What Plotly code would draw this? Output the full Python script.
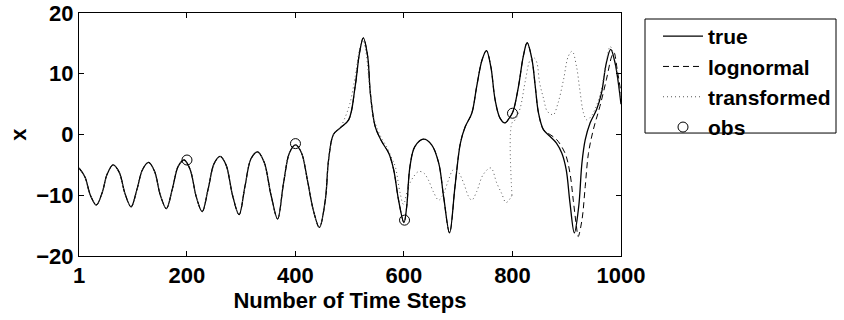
import plotly.graph_objects as go

# ---------------- data ----------------
true_steps = [1, 12, 22, 33, 44, 53, 64, 75, 86, 97, 108, 118, 129, 140, 151, 162, 173, 184, 195,
              206, 217, 228, 239, 250, 261, 272, 284, 296, 307, 318, 330, 342, 355, 367, 378, 389,
              400, 411, 422, 433, 444, 455, 461, 470, 482, 498, 510, 518, 525, 533, 538, 547, 559,
              572, 581, 590, 600, 605, 611, 620, 636, 651, 664, 673, 684, 694, 704, 713, 725, 734,
              744, 752, 760, 768, 777, 786, 794, 801, 811, 820, 827, 836, 842, 848, 857, 869, 881,
              891, 899, 906, 914, 922, 928, 934, 943, 955, 964, 973, 981, 989, 1000]
true_vals = [-5.5, -7.0, -10.0, -11.6, -9.5, -6.5, -5.0, -6.2, -9.8, -11.9, -9.0, -5.8, -4.6, -6.0,
             -10.0, -12.2, -9.0, -5.2, -4.2, -5.8, -10.2, -12.7, -9.0, -4.8, -3.6, -5.0, -10.0,
             -13.2, -8.5, -4.0, -2.85, -4.5, -10.0, -13.9, -8.0, -3.0, -1.7, -3.0, -7.5, -12.5,
             -15.3, -10.8, -4.2, 0.0, 1.05, 2.4, 7.9, 13.4, 15.9, 12.9, 6.8, 1.3, -1.15, -3.1,
             -5.8, -10.8, -14.5, -11.9, -5.3, -2.0, -0.77, -1.7, -4.7, -10.2, -16.2, -8.6, -1.4,
             1.3, 3.5, 7.9, 12.3, 13.8, 11.2, 5.7, 2.7, 1.9, 2.7, 3.8, 7.9, 12.9, 15.1, 12.3, 7.9,
             3.5, 0.8, -0.3, -1.4, -3.1, -5.8, -11.3, -16.2, -11.9, -4.7, -0.9, 1.9, 4.1, 6.8,
             11.8, 14.0, 11.8, 5.0]

# lognormal follows "true" up to step 857, then diverges
lognormal_split_step = 857
lognormal_tail_steps = [869, 881, 897, 906, 912, 918, 921, 928, 934, 940, 949, 961, 973, 983, 987, 993, 1000]
lognormal_tail_vals = [0.0, -0.8, -3.1, -6.4, -10.8, -15.2, -16.8, -14.1, -8.6, -3.1, 0.8, 4.6,
                       9.0, 12.9, 13.5, 10.7, 6.8]

# transformed follows "true" up to step 482, then diverges (jump at step 799)
transformed_split_step = 482
transformed_tail_steps = [490, 500, 510, 518, 524, 530, 536, 545, 558, 568, 578, 584, 593, 599,
                          608, 618, 627, 636, 645, 654, 664, 673, 682, 691, 700, 710, 719, 725,
                          734, 746, 760, 771, 780, 788, 796, 799, 799, 805, 814, 824, 833, 840,
                          845, 850, 857, 864, 869, 875, 884, 894, 903, 910, 918, 924, 931, 937,
                          945, 955, 964, 973, 980, 989, 1000]
transformed_tail_vals = [2.5, 5.0, 9.5, 14.0, 15.6, 13.5, 8.5, 2.5, -0.5, -2.0, -4.0, -5.3, -9.7,
                         -11.5, -8.6, -6.9, -6.1, -6.3, -7.5, -9.4, -10.8, -9.7, -7.5, -5.8, -6.2,
                         -8.0, -10.2, -10.8, -9.4, -6.6, -5.5, -8.0, -9.7, -11.2, -10.5, -10.0,
                         1.9, 2.4, 4.3, 9.0, 12.3, 12.6, 11.8, 8.5, 6.0, 3.8, 3.5, 3.2, 5.2, 9.0,
                         12.9, 13.7, 11.2, 7.4, 3.5, 2.4, 3.0, 4.8, 7.5, 12.0, 14.5, 12.0, 5.5]

obs_steps = [200, 400, 601, 800]
obs_vals = [-4.2, -1.5, -14.1, 3.5]

x_ticks = [1, 200, 400, 600, 800, 1000]
y_ticks = [-20, -10, 0, 10, 20]

# ---------------- build series ----------------
k = true_steps.index(lognormal_split_step)
logn_steps = true_steps[:k + 1] + lognormal_tail_steps
logn_vals = true_vals[:k + 1] + lognormal_tail_vals

m = true_steps.index(transformed_split_step)
tr_steps = true_steps[:m + 1] + transformed_tail_steps
tr_vals = true_vals[:m + 1] + transformed_tail_vals
# split at the vertical jump (repeated step)
j = next(i for i in range(1, len(tr_steps)) if tr_steps[i] == tr_steps[i - 1])
trA_s, trA_v = tr_steps[:j], tr_vals[:j]
trB_s, trB_v = tr_steps[j - 1:], tr_vals[j - 1:]

FONT = "Liberation Sans, Arial, Helvetica, sans-serif"

fig = go.Figure()
fig.add_trace(go.Scatter(x=true_steps, y=true_vals, mode="lines", name="true",
                         line=dict(color="black", width=1.3, shape="spline", smoothing=1.0)))
fig.add_trace(go.Scatter(x=logn_steps, y=logn_vals, mode="lines", name="lognormal",
                         line=dict(color="black", width=1, dash="6px,4px", shape="spline", smoothing=1.0)))
fig.add_trace(go.Scatter(x=trA_s, y=trA_v, mode="lines", name="transformed", legendgroup="tr",
                         line=dict(color="#555555", width=1, dash="1px,3px", shape="spline", smoothing=1.0)))
fig.add_trace(go.Scatter(x=trB_s, y=trB_v, mode="lines", name="transformed", legendgroup="tr",
                         showlegend=False,
                         line=dict(color="#555555", width=1, dash="1px,3px", shape="spline", smoothing=1.0)))
fig.add_trace(go.Scatter(x=obs_steps, y=obs_vals, mode="markers", name="obs",
                         marker=dict(symbol="circle-open", size=10, color="black",
                                     line=dict(color="black", width=1))))

axis_common = dict(showline=True, linecolor="black", linewidth=1, mirror="ticks",
                   ticks="inside", ticklen=5, tickwidth=1, tickcolor="black",
                   showgrid=False, zeroline=False,
                   tickfont=dict(family=FONT, size=22, color="black", weight="bold"))

fig.update_xaxes(range=[1, 1000], tickvals=x_ticks, ticktext=[str(v) for v in x_ticks],
                 title=dict(text="Number of Time Steps", standoff=4,
                            font=dict(family=FONT, size=22, color="black", weight="bold")),
                 **axis_common)
fig.update_yaxes(range=[-20, 20], tickvals=y_ticks,
                 title=dict(text="x", standoff=3,
                            font=dict(family=FONT, size=22, color="black", weight="bold")),
                 **axis_common)

# legend frame drawn as a rectangle (paper coords relative to the plot area)
fig.add_shape(type="rect", xref="paper", yref="paper",
              x0=1.0443, x1=1.3967, y0=0.506, y1=0.9753,
              line=dict(color="black", width=1), fillcolor="rgba(0,0,0,0)", layer="above")

fig.update_layout(
    width=844, height=320,
    margin=dict(l=79, r=223, t=13, b=64, autoexpand=False),
    paper_bgcolor="white", plot_bgcolor="white",
    showlegend=True,
    legend=dict(xref="container", yref="container", x=658 / 844, y=1 - 16 / 320,
                xanchor="left", yanchor="top",
                borderwidth=0, bgcolor="rgba(0,0,0,0)",
                font=dict(family=FONT, size=21, color="black", weight="bold"),
                tracegroupgap=0, itemwidth=40),
)

fig.write_html("out.html")
